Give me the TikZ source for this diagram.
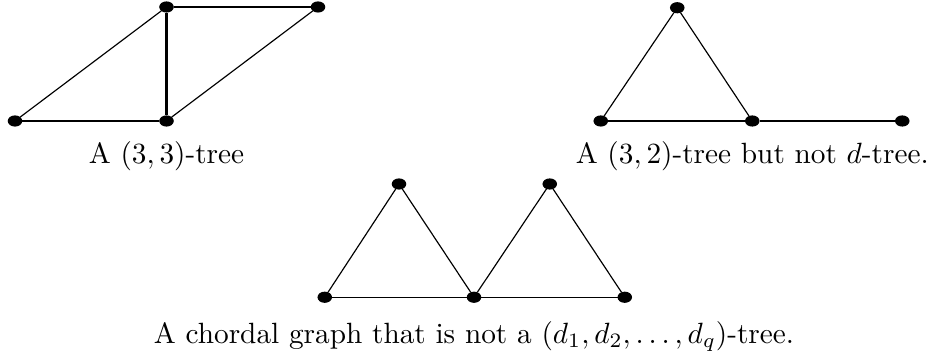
\documentclass[tikz,border=0pt]{standalone}
\usepackage{amsmath, amssymb}
\usepackage{tikz}
\usetikzlibrary{shapes.geometric}

\begin{document}
\begin{tikzpicture}[
    x=0.9cm, y=0.9cm,
    vtx/.style  = {draw, fill=black, ellipse, inner sep=0pt, minimum width=0.16cm, minimum height=0.12cm},
    link/.style = {line width=0.4pt},
    bold/.style = {line width=0.8pt},
    lbl/.style  = {font=\normalsize}
]
\useasboundingbox (-0.2,-3.16) rectangle (12.2,1.613);

% ---- (3,3)-tree ----
\node[vtx] (a1) at (0,0)       {};
\node[vtx] (a2) at (2.02,0)    {};
\node[vtx] (a3) at (2.02,1.52) {};
\node[vtx] (a4) at (4.04,1.52) {};

\draw[link] (a1) -- (a2);
\draw[link] (a1) -- (a3);
\draw[bold] (a2) -- (a3);
\draw[link] (a3) -- (a4);
\draw[link] (a2) -- (a4);

\node[lbl] (la) at (2.02,-0.47) {A $(3,3)$-tree};

% ---- (3,2)-tree ----
\node[vtx] (b1) at (7.81,0)    {};
\node[vtx] (b2) at (8.83,1.51) {};
\node[vtx] (b3) at (9.83,0)    {};
\node[vtx] (b4) at (11.83,0)   {};

\draw[link] (b1) -- (b2);
\draw[link] (b2) -- (b3);
\draw[link] (b1) -- (b3);
\draw[link] (b3) -- (b4);

\node[lbl] (lb) at (9.83,-0.47) {A $(3,2)$-tree but not $d$-tree.};

% ---- chordal graph ----
\node[vtx] (c1) at (4.13,-2.35) {};
\node[vtx] (c2) at (5.12,-0.84) {};
\node[vtx] (c3) at (6.12,-2.35) {};
\node[vtx] (c4) at (7.13,-0.84) {};
\node[vtx] (c5) at (8.13,-2.35) {};

\draw[link] (c1) -- (c3);
\draw[link] (c3) -- (c5);
\draw[link] (c1) -- (c2);
\draw[link] (c2) -- (c3);
\draw[link] (c3) -- (c4);
\draw[link] (c4) -- (c5);

\node[lbl] (lc) at (6.12,-2.87) {A chordal graph that is not a $(d_1,d_2,\ldots,d_q)$-tree.};

\end{tikzpicture}
\end{document}
